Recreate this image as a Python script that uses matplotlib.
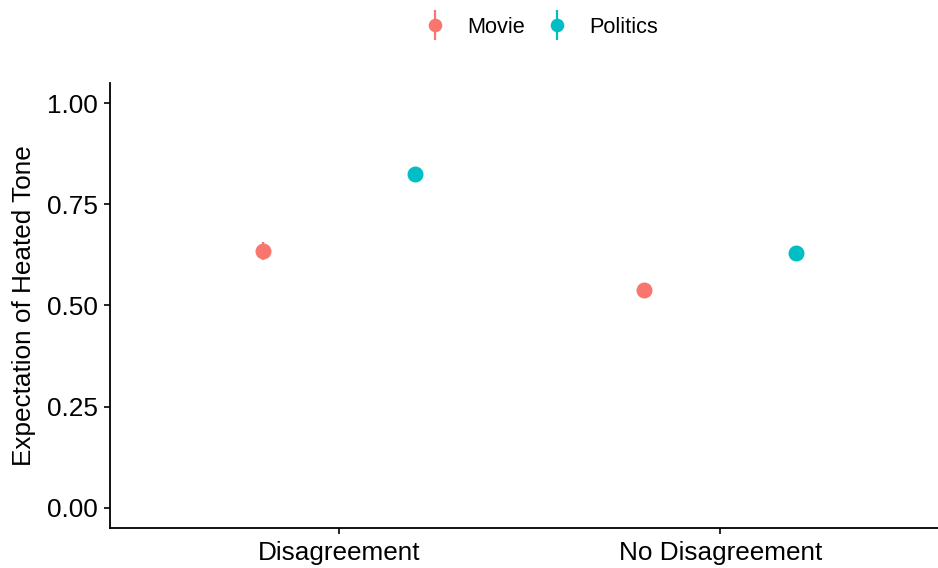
import matplotlib
matplotlib.use("Agg")
import matplotlib.pyplot as plt
import numpy as np
from matplotlib.container import ErrorbarContainer
from matplotlib.legend_handler import HandlerErrorbar

plt.rcParams['font.family'] = ['Liberation Sans', 'DejaVu Sans']

# Data
conditions = ["Disagreement", "No Disagreement"]
topics = ["Movie", "Politics"]
means = {
    "Movie": [0.635, 0.538],
    "Politics": [0.825, 0.630],
}
errors = {
    "Movie": [0.023, 0.012],
    "Politics": [0.012, 0.012],
}
colors = {"Movie": "#F8766D", "Politics": "#00BFC4"}
offsets = {"Movie": -0.2, "Politics": 0.2}

fig = plt.figure(figsize=(9.38, 5.68), dpi=100)
ax = fig.add_axes([0.1173, 0.0704, 0.8944, 0.7835])

x = np.arange(len(conditions))
containers = []
for t in topics:
    c = ax.errorbar(x + offsets[t], means[t], yerr=errors[t], fmt='o',
                    color=colors[t], markersize=11.5, elinewidth=1.6,
                    capsize=0, markeredgewidth=0, zorder=3, label=t)
    containers.append(c)

ax.set_xlim(-0.6, 1.6)
ax.set_ylim(-0.05, 1.05)
ax.set_xticks(x)
ax.set_xticklabels(conditions)
ax.set_yticks([0, 0.25, 0.5, 0.75, 1.0])
ax.set_yticklabels(["0.00", "0.25", "0.50", "0.75", "1.00"])
ax.set_ylabel("Expectation of Heated Tone", fontsize=18.8, labelpad=8)

ax.tick_params(axis='both', labelsize=18.8, length=4.5, width=1.2,
               color='black', labelcolor='black')
ax.tick_params(axis='y', pad=4)
ax.tick_params(axis='x', pad=5)

for side in ['top', 'right']:
    ax.spines[side].set_visible(False)
for side in ['left', 'bottom']:
    ax.spines[side].set_linewidth(1.3)
    ax.spines[side].set_color('black')

leg = fig.legend(containers, topics, loc='center',
                 bbox_to_anchor=(0.5758, 0.952), ncol=2, frameon=False,
                 fontsize=15.7, handlelength=1.2, handletextpad=0.9,
                 columnspacing=0.85, markerscale=0.85,
                 handler_map={ErrorbarContainer: HandlerErrorbar(xerr_size=0.5, yerr_size=0.68)})

fig.savefig("out.png", dpi=100)
